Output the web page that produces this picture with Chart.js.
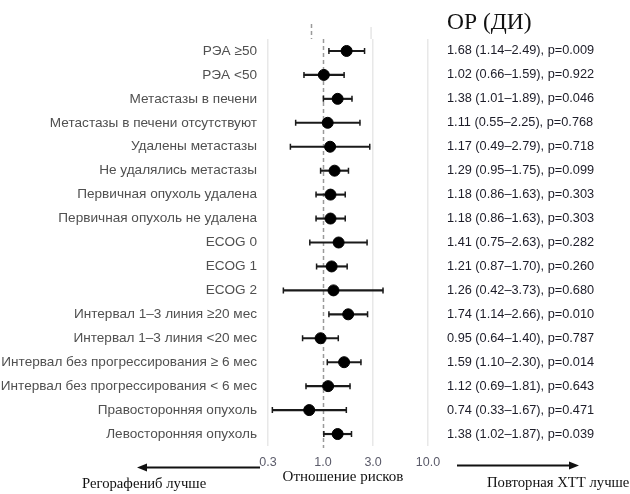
<!DOCTYPE html>
<html>
<head>
<meta charset="utf-8">
<script src="https://cdn.jsdelivr.net/npm/chart.js@4.4.0/dist/chart.umd.min.js"></script>
<style>
  html, body { margin: 0; padding: 0; background: #ffffff; }
  #wrap { width: 630px; height: 494px; position: relative; }
</style>
</head>
<body>
<div id="wrap"><canvas id="c" width="630" height="494"></canvas></div>
<script>
// ---- data ----
const categories = [
  "РЭА ≥50",
  "РЭА <50",
  "Метастазы в печени",
  "Метастазы в печени отсутствуют",
  "Удалены метастазы",
  "Не удалялись метастазы",
  "Первичная опухоль удалена",
  "Первичная опухоль не удалена",
  "ECOG 0",
  "ECOG 1",
  "ECOG 2",
  "Интервал 1–3 линия ≥20 мес",
  "Интервал 1–3 линия <20 мес",
  "Интервал без прогрессирования ≥ 6 мес",
  "Интервал без прогрессирования < 6 мес",
  "Правосторонняя опухоль",
  "Левосторонняя опухоль"
];
const hr    = [1.68, 1.02, 1.38, 1.11, 1.17, 1.29, 1.18, 1.18, 1.41, 1.21, 1.26, 1.74, 0.95, 1.59, 1.12, 0.74, 1.38];
const lower = [1.14, 0.66, 1.01, 0.55, 0.49, 0.95, 0.86, 0.86, 0.75, 0.87, 0.42, 1.14, 0.64, 1.10, 0.69, 0.33, 1.02];
const upper = [2.49, 1.59, 1.89, 2.25, 2.79, 1.75, 1.63, 1.63, 2.63, 1.70, 3.73, 2.66, 1.40, 2.30, 1.81, 1.67, 1.87];
const pvals = ["0.009", "0.922", "0.046", "0.768", "0.718", "0.099", "0.303", "0.303", "0.282", "0.260", "0.680", "0.010", "0.787", "0.014", "0.643", "0.471", "0.039"];
const xTicks = [0.3, 1.0, 3.0, 10.0];
const titleText = "ОР (ДИ)";
const axisTitle = "Отношение рисков";
const leftNote = "Регорафениб лучше";
const rightNote = "Повторная ХТТ лучше";

const rightLabels = categories.map((_, i) =>
  hr[i].toFixed(2) + " (" + lower[i].toFixed(2) + "–" + upper[i].toFixed(2) + "), p=" + pvals[i]);

const sansFont = "'Liberation Sans', Arial, sans-serif";
const serifFont = "'Liberation Serif', 'Times New Roman', serif";

const decor = {
  id: 'decor',
  beforeDatasetsDraw(chart) {
    const ctx = chart.ctx, ca = chart.chartArea, xs = chart.scales.x;
    const x1 = Math.round(xs.getPixelForValue(1)) + 0.5;
    ctx.save();
    ctx.strokeStyle = '#9a9a9a';
    ctx.lineWidth = 1.5;
    ctx.setLineDash([4, 3]);
    ctx.beginPath();
    ctx.moveTo(x1, ca.top);
    ctx.lineTo(x1, ca.bottom + 2);
    ctx.stroke();
    // small offset fragments above the panel
    ctx.beginPath();
    ctx.moveTo(x1 - 12, ca.top - 15);
    ctx.lineTo(x1 - 12, ca.top);
    ctx.stroke();
    ctx.setLineDash([]);
    ctx.strokeStyle = '#e6e6e6';
    const x3 = xs.getPixelForValue(3);
    ctx.beginPath();
    ctx.moveTo(x3 - 2, ca.top - 12);
    ctx.lineTo(x3 - 2, ca.top);
    ctx.stroke();
    ctx.restore();
  },
  afterDraw(chart) {
    const ctx = chart.ctx, ca = chart.chartArea;
    ctx.save();
    // header
    ctx.fillStyle = '#111111';
    ctx.font = "23.5px " + serifFont;
    ctx.textAlign = 'left';
    ctx.textBaseline = 'alphabetic';
    ctx.fillText(titleText, ca.right + 19, 29);
    // axis title
    ctx.font = "15px " + serifFont;
    ctx.textAlign = 'center';
    ctx.textBaseline = 'middle';
    ctx.fillText(axisTitle, (ca.left + ca.right) / 2 - 5, 477);
    ctx.font = "14.7px " + serifFont;
    ctx.textAlign = 'left';
    ctx.fillText(leftNote, 82, 484);
    ctx.fillText(rightNote, 487, 483);
    // arrows
    ctx.strokeStyle = '#111111';
    ctx.fillStyle = '#111111';
    ctx.lineWidth = 2;
    const ly = 467.5, ry = 465.5;
    ctx.beginPath();
    ctx.moveTo(ca.left - 8, ly);
    ctx.lineTo(144, ly);
    ctx.stroke();
    ctx.beginPath();
    ctx.moveTo(137, ly);
    ctx.lineTo(147, ly - 4);
    ctx.lineTo(147, ly + 4);
    ctx.closePath();
    ctx.fill();
    ctx.beginPath();
    ctx.moveTo(457, ry);
    ctx.lineTo(571, ry);
    ctx.stroke();
    ctx.beginPath();
    ctx.moveTo(579, ry);
    ctx.lineTo(569, ry - 4);
    ctx.lineTo(569, ry + 4);
    ctx.closePath();
    ctx.fill();
    ctx.restore();
  }
};

new Chart(document.getElementById('c'), {
  data: {
    labels: categories,
    datasets: [
      {
        type: 'bar',
        indexAxis: 'y',
        data: categories.map((c, i) => [lower[i], upper[i]]),
        backgroundColor: '#1a1a1a',
        borderWidth: 0,
        barThickness: 1.5,
        grouped: false,
        order: 3
      },
      {
        type: 'scatter',
        data: categories.map((c, i) => ({ x: lower[i], y: c })),
        pointStyle: 'line',
        rotation: 90,
        pointRadius: 3,
        borderColor: '#1a1a1a',
        borderWidth: 1.5,
        order: 2
      },
      {
        type: 'scatter',
        data: categories.map((c, i) => ({ x: upper[i], y: c })),
        pointStyle: 'line',
        rotation: 90,
        pointRadius: 3,
        borderColor: '#1a1a1a',
        borderWidth: 1.5,
        order: 2
      },
      {
        type: 'scatter',
        data: categories.map((c, i) => ({ x: hr[i], y: c })),
        pointStyle: 'circle',
        pointRadius: 5.5,
        backgroundColor: '#000000',
        borderColor: '#000000',
        borderWidth: 1,
        order: 1
      }
    ]
  },
  options: {
    responsive: false,
    animation: false,
    events: [],
    layout: { padding: { top: 39, left: 0, right: 0, bottom: 0 } },
    plugins: { legend: { display: false }, tooltip: { enabled: false }, title: { display: false } },
    scales: {
      x: {
        type: 'logarithmic',
        position: 'bottom',
        min: 0.3,
        max: 10,
        afterBuildTicks(scale) { scale.ticks = xTicks.map(v => ({ value: v })); },
        afterFit(scale) { scale.height = 48; },
        grid: {
          color: ctx => (ctx.tick && ctx.tick.value === 1) ? 'rgba(0,0,0,0)' : '#e8e8e8',
          lineWidth: 1.5,
          drawTicks: false
        },
        border: { display: false },
        ticks: {
          padding: 9,
          color: '#5b5b6a',
          font: { family: sansFont, size: 12.5 },
          callback: v => Number(v).toFixed(1),
          autoSkip: false,
          maxRotation: 0
        }
      },
      y: {
        type: 'category',
        position: 'left',
        labels: categories,
        offset: true,
        afterFit(scale) { scale.width = 268; },
        grid: { display: false, drawTicks: false },
        border: { display: false },
        ticks: {
          padding: 11,
          color: '#505050',
          font: { family: sansFont, size: 13.6 },
          autoSkip: false
        }
      },
      y2: {
        type: 'category',
        position: 'right',
        labels: rightLabels,
        offset: true,
        afterFit(scale) { scale.width = 202; },
        grid: { display: false, drawTicks: false },
        border: { display: false },
        ticks: {
          padding: 19,
          color: '#1c1c28',
          font: { family: sansFont, size: 12.75 },
          autoSkip: false
        }
      }
    }
  },
  plugins: [decor]
});
</script>
</body>
</html>
